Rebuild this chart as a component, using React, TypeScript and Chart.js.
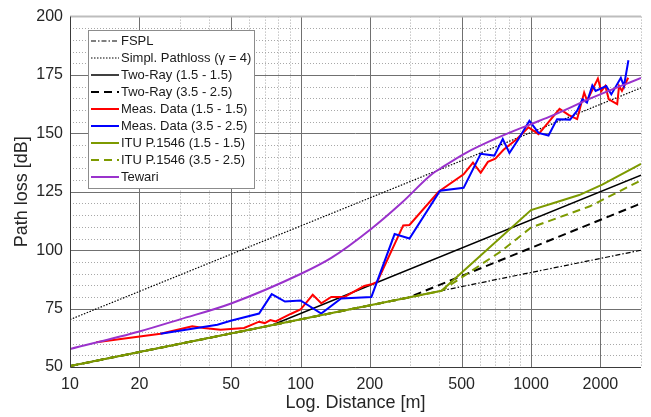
import React, { useEffect, useRef } from "react";
import { Chart, registerables } from "chart.js";

Chart.register(...registerables);

// ---- axis ticks ----
const X_TICKS = [10, 20, 50, 100, 200, 500, 1000, 2000];
const X_MINOR = [30, 40, 60, 70, 80, 90, 300, 400, 600, 700, 800, 900, 3000];
const Y_TICKS = [50, 75, 100, 125, 150, 175, 200];
const Y_MINOR = [55, 60, 65, 70, 80, 85, 90, 95, 105, 110, 115, 120, 130, 135, 140, 145, 155, 160, 165, 170, 180, 185, 190, 195];

// ---- series ----
const fsplD = [10, 3000];
const fsplL = [50.4, 100.0];

const simplD = [10, 3000];
const simplL = [70.3, 169.5];

const twoRay15D = [10, 75, 3000];
const twoRay15L = [50.4, 67.9, 132.1];

const twoRay35D = [10, 293, 3000];
const twoRay35L = [50.4, 79.7, 120.0];

const measRedD = [13, 24.7, 33.9, 38.1, 45, 56.9, 66.1, 70, 74, 78, 90.6, 100, 113, 123, 136, 155, 189, 203, 215, 279, 297, 397, 510, 560, 605, 650, 700, 760, 869, 975, 1078, 1150, 1330, 1460, 1585, 1700, 1750, 1950, 2017, 2100, 2175, 2365, 2410, 2480, 2640];
const measRedL = [60.6, 64.2, 67.4, 66.7, 65.9, 66.7, 69.4, 68.8, 70.1, 69.5, 72.7, 74.6, 80.9, 77.3, 80.0, 80.0, 84.7, 85.4, 86.4, 110.6, 110.8, 125.0, 132.5, 137.5, 133.1, 137.8, 139.2, 143.0, 147.6, 152.6, 149.7, 153.0, 160.5, 157.8, 156.1, 167.5, 164.0, 173.5, 168.0, 170.3, 164.6, 162.5, 170.3, 168.2, 173.8];

const measBlueD = [24.7, 43.6, 49.8, 66.1, 75, 85.6, 100, 123, 150, 203, 256, 297, 403, 510, 605, 693, 754, 806, 883, 984, 1078, 1191, 1297, 1476, 1586, 1671, 1748, 1845, 1906, 2121, 2230, 2453, 2530, 2646];
const measBlueL = [64.2, 68.1, 69.8, 72.9, 81.2, 78.0, 78.5, 72.9, 79.3, 80.0, 106.9, 105.0, 125.5, 126.7, 141.3, 140.5, 147.6, 141.6, 147.6, 155.4, 150.2, 149.1, 156.1, 155.9, 159.7, 164.6, 163.2, 170.5, 168.2, 170.3, 166.7, 173.8, 170.3, 181.3];

const itu15D = [10, 409, 1000, 1235, 1618, 2037, 3000];
const itu15L = [50.4, 82.6, 117.2, 120.0, 123.6, 128.1, 137.0];

const itu35D = [10, 409, 748, 1000, 1800, 3000];
const itu35L = [50.4, 82.6, 99.8, 109.7, 118.8, 129.9];

const tewariD = [10, 20, 30, 50, 100, 136, 203, 274, 371, 409, 518, 723, 1000, 1235, 1845, 3000];
const tewariL = [57.7, 65.2, 70.4, 77.2, 89.8, 96.7, 109.2, 120.2, 132.5, 135.3, 141.5, 148.3, 154.0, 157.6, 165.3, 173.8];

const FONT = "'Liberation Sans', Arial, Helvetica, sans-serif";
const OLIVE = "#7d9a00";
const PURPLE = "#9a32cc";

const pts = (d: number[], l: number[]) => d.map((v, i) => ({ x: v, y: l[i] }));

const SERIES = [
  { label: "FSPL", d: fsplD, l: fsplL, color: "#000000", width: 1.2, dash: [5, 2, 1.5, 2] },
  { label: "Simpl. Pathloss (\u03b3 = 4)", d: simplD, l: simplL, color: "#000000", width: 1.2, dash: [1.5, 1.5] },
  { label: "Two-Ray (1.5 - 1.5)", d: twoRay15D, l: twoRay15L, color: "#000000", width: 1.5, dash: [] },
  { label: "Two-Ray (3.5 - 2.5)", d: twoRay35D, l: twoRay35L, color: "#000000", width: 2, dash: [8, 5] },
  { label: "Meas. Data (1.5 - 1.5)", d: measRedD, l: measRedL, color: "#ff0000", width: 2, dash: [] },
  { label: "Meas. Data (3.5 - 2.5)", d: measBlueD, l: measBlueL, color: "#0000ff", width: 2, dash: [] },
  { label: "ITU P.1546 (1.5 - 1.5)", d: itu15D, l: itu15L, color: OLIVE, width: 2, dash: [] },
  { label: "ITU P.1546 (3.5 - 2.5)", d: itu35D, l: itu35L, color: OLIVE, width: 2, dash: [8, 5] },
  { label: "Tewari", d: tewariD, l: tewariL, color: PURPLE, width: 2, dash: [] },
];

const gridPlugin = {
  id: "matlabGrid",
  beforeDatasetsDraw(chart: any) {
    const { ctx, chartArea, scales } = chart;
    const { left, right, top, bottom } = chartArea;
    const xs = scales.x;
    const ys = scales.y;
    ctx.save();
    ctx.lineWidth = 1;
    // minor dotted
    ctx.setLineDash([1, 2]);
    ctx.strokeStyle = "#a8a8a8";
    for (const v of Y_MINOR) {
      const p = Math.round(ys.getPixelForValue(v)) + 0.5;
      ctx.beginPath(); ctx.moveTo(left, p); ctx.lineTo(right, p); ctx.stroke();
    }
    for (const v of X_MINOR) {
      const p = Math.round(xs.getPixelForValue(v)) + 0.5;
      ctx.beginPath(); ctx.moveTo(p, top); ctx.lineTo(p, bottom); ctx.stroke();
    }
    // major solid
    ctx.setLineDash([]);
    ctx.strokeStyle = "#707070";
    for (const v of Y_TICKS) {
      if (v === 50 || v === 200) continue;
      const p = Math.round(ys.getPixelForValue(v)) + 0.5;
      ctx.beginPath(); ctx.moveTo(left, p); ctx.lineTo(right, p); ctx.stroke();
    }
    for (const v of X_TICKS) {
      if (v === 10) continue;
      const p = Math.round(xs.getPixelForValue(v)) + 0.5;
      ctx.beginPath(); ctx.moveTo(p, top); ctx.lineTo(p, bottom); ctx.stroke();
    }
    ctx.restore();
  },
  afterDatasetsDraw(chart: any) {
    const { ctx, chartArea } = chart;
    const { left, right, top, bottom } = chartArea;
    ctx.save();
    // frame
    ctx.setLineDash([]);
    ctx.strokeStyle = "#bdbdbd";
    ctx.lineWidth = 2;
    ctx.beginPath(); ctx.moveTo(left, top); ctx.lineTo(right, top); ctx.stroke();
    ctx.strokeStyle = "#3a3a3a";
    ctx.lineWidth = 1;
    ctx.beginPath();
    ctx.moveTo(Math.round(left) + 0.5, top);
    ctx.lineTo(Math.round(left) + 0.5, Math.round(bottom) + 0.5);
    ctx.lineTo(right, Math.round(bottom) + 0.5);
    ctx.stroke();

    // legend box
    const bx = 88.5, by = 30.5, bw = 166, bh = 158;
    ctx.fillStyle = "#ffffff";
    ctx.fillRect(bx, by, bw, bh);
    ctx.strokeStyle = "#8c8c8c";
    ctx.lineWidth = 1;
    ctx.strokeRect(bx, by, bw, bh);
    ctx.font = `13px ${FONT}`;
    ctx.textBaseline = "middle";
    ctx.textAlign = "left";
    SERIES.forEach((s, i) => {
      const yy = 41 + i * 17;
      ctx.strokeStyle = s.color;
      ctx.lineWidth = s.width;
      ctx.setLineDash(s.dash);
      ctx.beginPath(); ctx.moveTo(91, yy); ctx.lineTo(119, yy); ctx.stroke();
      ctx.setLineDash([]);
      ctx.fillStyle = "#1a1a1a";
      ctx.fillText(s.label, 121, yy + 0.5);
    });
    ctx.restore();
  },
};

export default function App() {
  const ref = useRef<HTMLCanvasElement | null>(null);
  useEffect(() => {
    if (!ref.current) return;
    const chart = new Chart(ref.current, {
      type: "line",
      data: {
        datasets: SERIES.map((s, i) => ({
          label: s.label,
          data: pts(s.d, s.l),
          borderColor: s.color,
          backgroundColor: s.color,
          borderWidth: s.width,
          borderDash: s.dash,
          pointRadius: 0,
          fill: false,
          tension: 0,
          cubicInterpolationMode: s.label === "Tewari" ? "monotone" : "default",
          order: SERIES.length - i,
        })) as any,
      },
      options: {
        animation: false,
        responsive: false,
        devicePixelRatio: 1,
        parsing: false,
        layout: { padding: { top: 13, right: 10, left: 0, bottom: 0 } },
        plugins: { legend: { display: false }, tooltip: { enabled: false } },
        scales: {
          x: {
            type: "logarithmic",
            min: 10,
            max: 3000,
            afterBuildTicks: (scale: any) => {
              scale.ticks = X_TICKS.map((v) => ({ value: v }));
            },
            afterFit: (scale: any) => { scale.height = 50; },
            grid: { display: false, drawTicks: false },
            border: { display: false },
            ticks: {
              autoSkip: false,
              maxRotation: 0,
              padding: 8,
              color: "#262626",
              font: { family: FONT, size: 16 },
              callback: (v: any) => String(v),
            },
            title: {
              display: true,
              text: "Log. Distance [m]",
              color: "#262626",
              font: { family: FONT, size: 18 },
              padding: { top: 0, bottom: 3 },
            },
          },
          y: {
            type: "linear",
            min: 50,
            max: 200,
            afterBuildTicks: (scale: any) => {
              scale.ticks = Y_TICKS.map((v) => ({ value: v }));
            },
            afterFit: (scale: any) => { scale.width = 70; },
            grid: { display: false, drawTicks: false },
            border: { display: false },
            ticks: {
              padding: 7,
              color: "#262626",
              font: { family: FONT, size: 16 },
            },
            title: {
              display: true,
              text: "Path loss [dB]",
              color: "#262626",
              font: { family: FONT, size: 18 },
              padding: { top: 11, bottom: 0 },
            },
          },
        },
      } as any,
      plugins: [gridPlugin],
    });
    return () => chart.destroy();
  }, []);
  return (
    <div style={{ position: "absolute", left: 0, top: 0, width: 651, height: 417, background: "#ffffff" }}>
      <canvas ref={ref} width={651} height={417} style={{ display: "block" }} />
    </div>
  );
}
